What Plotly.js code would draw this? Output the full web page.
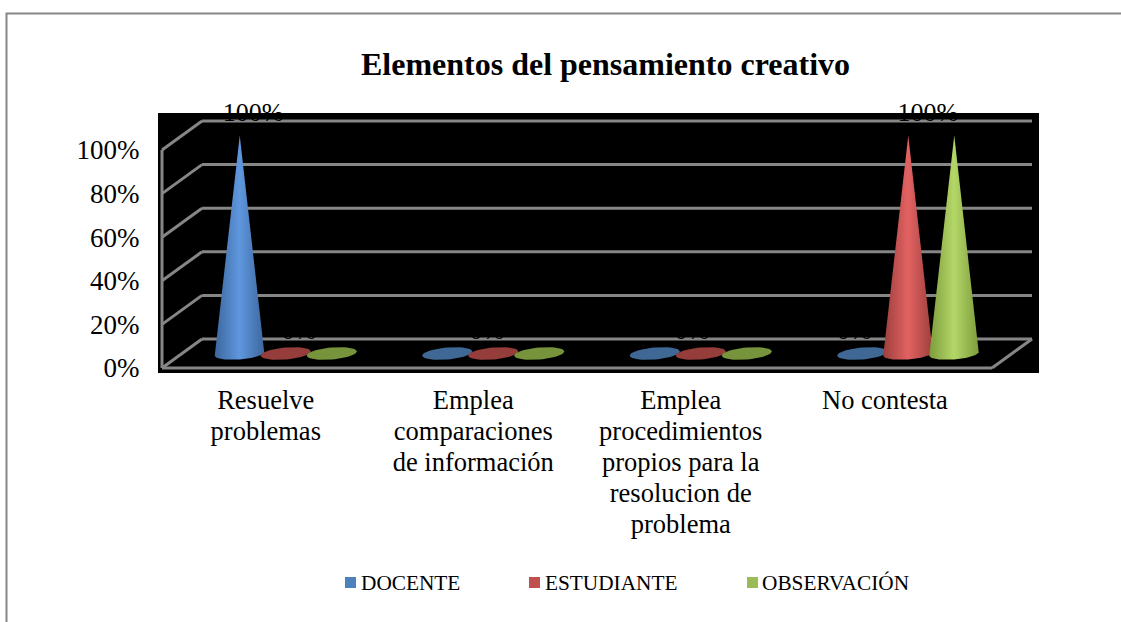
<!DOCTYPE html>
<html>
<head>
<meta charset="utf-8">
<script src="https://cdn.plot.ly/plotly-3.0.1.min.js"></script>
<style>html,body{margin:0;padding:0;background:#fff;overflow:hidden}</style>
</head>
<body>
<div id="chart" style="width:1121px;height:622px"></div>
<script>
// ---------- data ----------
const categories = ["Resuelve<br>problemas", "Emplea<br>comparaciones<br>de información", "Emplea<br>procedimientos<br>propios para la<br>resolucion de<br>problema", "No contesta"];
const seriesNames = ["DOCENTE", "ESTUDIANTE", "OBSERVACIÓN"];
const docente = [100, 0, 0, 0];
const estudiante = [0, 0, 0, 100];
const observacion = [0, 0, 0, 100];
const yTicks = [0, 20, 40, 60, 80, 100];
const labelCategory = [0, 0, 1, 2, 3, 3];
const labelValue = [100, 0, 0, 0, 0, 100];

// ---------- styling ----------
const legendColors = ["#4f81bd", "#c0504d", "#9bbb59"];
const flatColors = ["#3f6895", "#953d3a", "#77933c"];
const edgeColors = ["#3c679e", "#9c3f3c", "#7d9c3c"];
const lightColors = ["#5f97de", "#e26262", "#b4d768"];
const gray = "#868686";
const font = "'Liberation Serif','Times New Roman',serif";
const W = 1121, H = 622;
const plotL = 158, plotR = 1039, plotT = 113, plotB = 373;

// 3D look: x axis = category index, y axis = value on the front plane
const pxPerCat = 207.5, pxPerPct = 2.18, cat0Px = 265.75, zeroPx = 368;
const depthX = 40 / pxPerCat, depthY = 29 / pxPerPct;
const seriesStep = 46 / pxPerCat;
const ellA = 25 / pxPerCat, ellB = 6 / pxPerPct, ellK = 2 / pxPerPct;
const labelNudge = [-0.061, 0.160, 0.066, 0.054, -0.165, 0.191];
const tickNudge = [0, 0, 0, -0.016];
const labelLift = 16.2;

const allSeries = [docente, estudiante, observacion];

function cone(value, catIdx, serIdx) {
  const cx = catIdx + (serIdx - 1) * seriesStep + depthX / 2;
  const cy = depthY / 2;
  const end = value > 0 ? Math.PI : 2 * Math.PI;
  const xs = [], ys = [];
  if (value > 0) { xs.push(cx); ys.push(cy + value); }
  for (let i = 0; i <= 48; i++) {
    const t = end * i / 48;
    xs.push(cx + ellA * Math.cos(t));
    ys.push(cy - ellB * Math.sin(t) + ellK * Math.cos(t));
  }
  xs.push(xs[0]); ys.push(ys[0]);
  const tr = {
    type: "scatter", mode: "lines", x: xs, y: ys, fill: "toself",
    line: {width: 0, color: "rgba(0,0,0,0)"}, name: seriesNames[serIdx],
    showlegend: false, hoverinfo: "name"
  };
  if (value > 0) {
    tr.fillgradient = {type: "horizontal", colorscale: [
      [0, edgeColors[serIdx]], [0.5, lightColors[serIdx]], [1, edgeColors[serIdx]]
    ]};
  } else {
    tr.fillcolor = flatColors[serIdx];
  }
  return tr;
}

const traces = [];
allSeries.forEach((vals, s) => vals.forEach((v, c) => traces.push(cone(v, c, s))));

traces.push({
  type: "scatter", mode: "text",
  x: labelCategory.map((c, i) => c + labelNudge[i]),
  y: labelValue.map(v => v + labelLift),
  text: labelValue.map(v => v + "%"),
  textposition: "middle center",
  textfont: {family: font, size: 26, color: "#000"},
  cliponaxis: false, showlegend: false, hoverinfo: "skip"
});

// ---------- walls and floor ----------
const shapes = [];
const lineStyle = {color: gray, width: 3};
const xL = -0.5, xR = 3.5;
function seg(x0, y0, x1, y1) {
  shapes.push({type: "line", xref: "x", yref: "y", x0, y0, x1, y1, line: lineStyle, layer: "below"});
}
seg(xL, 0, xL, 100);
seg(xL, 0, xR, 0);
seg(xR, 0, xR + depthX, depthY);
yTicks.forEach(v => {
  seg(xL, v, xL + depthX, v + depthY);
  seg(xL + depthX, v + depthY, xR + depthX, v + depthY);
});

// outer chart frame
const pw = plotR - plotL, ph = plotB - plotT;
const px = p => (p - plotL) / pw;
const py = p => (plotB - p) / ph;
shapes.push({type: "rect", xref: "paper", yref: "paper",
  x0: px(6.5), x1: px(W + 20), y0: py(13.5), y1: py(H + 20),
  line: {color: gray, width: 2}, fillcolor: "rgba(0,0,0,0)", layer: "below"});

// ---------- legend ----------
const legendSwatchPx = [345, 529, 747];
const legendTextPx = [359, 543, 760];
const annotations = [];
seriesNames.forEach((n, i) => {
  shapes.push({type: "rect", xref: "paper", yref: "paper",
    x0: px(legendSwatchPx[i]), x1: px(legendSwatchPx[i] + 11),
    y0: py(588), y1: py(577), line: {width: 0}, fillcolor: legendColors[i]});
  annotations.push({xref: "paper", yref: "paper", x: px(legendTextPx[i]), y: py(583),
    xanchor: "left", yanchor: "middle", showarrow: false, text: n,
    font: {family: font, size: 21.3, color: "#000"}});
});

const layout = {
  width: W, height: H, autosize: false,
  margin: {l: plotL, r: W - plotR, t: plotT, b: H - plotB, pad: 0},
  paper_bgcolor: "#fff", plot_bgcolor: "#000",
  showlegend: false,
  title: {text: "<b>Elementos del pensamiento creativo</b>",
    x: px(605.5), xanchor: "center", xref: "paper", y: 1 - 64 / H, yanchor: "middle",
    font: {family: font, size: 32, color: "#000"}},
  xaxis: {type: "linear",
    range: [(plotL - cat0Px) / pxPerCat, (plotR - cat0Px) / pxPerCat],
    tickmode: "array", tickvals: categories.map((_, i) => i + tickNudge[i]), ticktext: categories,
    ticks: "outside", ticklen: 3, tickcolor: "rgba(0,0,0,0)", tickangle: 0,
    showgrid: false, zeroline: false, showline: false,
    tickfont: {family: font, size: 26.5, color: "#000"}},
  yaxis: {type: "linear",
    range: [(zeroPx - plotB) / pxPerPct, (zeroPx - plotT) / pxPerPct],
    tickmode: "array", tickvals: yTicks, ticktext: yTicks.map(v => v + "%"),
    ticks: "outside", ticklen: 12, tickcolor: "rgba(0,0,0,0)",
    showgrid: false, zeroline: false, showline: false,
    tickfont: {family: font, size: 27, color: "#000"}},
  shapes, annotations
};

Plotly.newPlot("chart", traces, layout, {displayModeBar: false, responsive: false}).then(gd => {
  // the reference sets its wrapped category labels tighter than Plotly's default line spacing
  gd.querySelectorAll(".xtick text tspan.line").forEach(t => {
    const dy = parseFloat(t.getAttribute("dy"));
    if (dy) t.setAttribute("dy", (dy / 1.3 * 1.17) + "em");
  });
});
</script>
</body>
</html>
